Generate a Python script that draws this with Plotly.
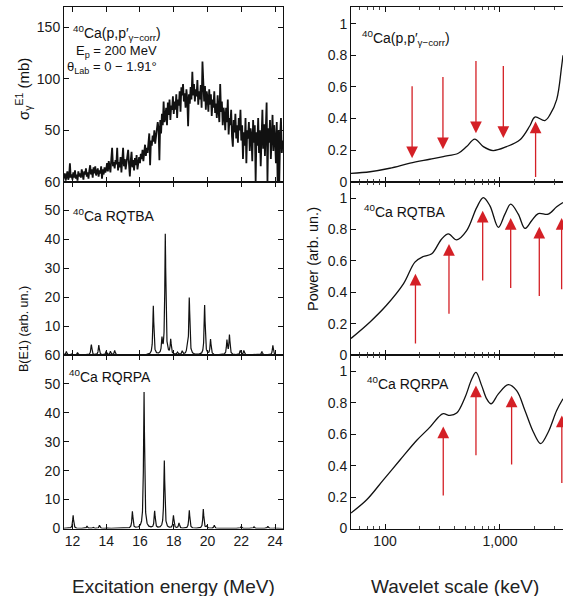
import numpy as np
import plotly.graph_objects as go

W, H = 563, 596

# ---------------- DATA ----------------
# Experimental 40Ca(p,p') E1 photoabsorption cross section (mb), 50 keV bins
exp_E_start = 11.50
exp_E_step = 0.05
exp_sigma = [
    3, 8, 1, 6, 10, 2, 5, 18, 4, 7,
    2, 9, 4, 11, 3, 7, 1, 10, 5, 8,
    4, 12, 6, 2, 10, 7, 13, 5, 9, 3,
    11, 16, 7, 12, 4, 14, 8, 15, 6, 10,
    13, 5, 11, 8, 15, 3, 12, 7, 14, 9,
    12, 18, 10, 20, 14, 9, 22, 33, 15, 19,
    13, 21, 17, 33, 11, 19, 14, 24, 9, 20,
    33, 15, 22, 12, 19, 25, 31, 17, 5, 20,
    29, 14, 21, 11, 23, 16, 26, 12, 20, 24,
    18, 27, 22, 31, 20, 29, 36, 25, 33, 28,
    38, 47, 16, 40, 35, 45, 39, 50, 37, 44,
    48, 58, 52, 21, 60, 47, 66, 55, 78, 58,
    62, 72, 55, 77, 65, 80, 60, 74, 70, 83,
    66, 78, 70, 85, 62, 80, 74, 88, 68, 92,
    84, 95, 78, 86, 72, 90, 80, 54, 85, 76,
    92, 80, 107, 84, 95, 78, 90, 83, 99, 75,
    88, 80, 94, 72, 117, 86, 78, 93, 70, 88,
    82, 68, 90, 75, 85, 64, 80, 72, 88, 67,
    76, 62, 84, 70, 58, 95, 68, 78, 55, 72,
    65, 50, 72, 58, 80, 46, 62, 55, 70, 44,
    34, 60, 48, 66, 42, 55, 38, 62, 50, 70,
    40, 55, 22, 48, 35, 62, 18, 50, 42, 58,
    30, 52, 45, 20, 60, 38, 55, 0, 48, 35,
    62, 28, 50, 15, 45, 70, 32, 56, 25, 48,
    77, 0, 52, 38, 60, 22, 46, 65, 30, 55,
    42, 18, 58, 0, 50, 0, 45, 62, 28, 40,
]

# RQTBA discrete E1 strength (energy MeV, B(E1) arb. un.)
rqtba_E = [11.64, 11.94, 12.30, 13.12, 13.56, 14.00, 14.25, 14.50, 15.98,
           16.79, 17.30, 17.50, 17.82, 18.22, 18.50, 18.80, 18.92, 19.83,
           20.18, 21.15, 21.30, 21.94, 22.15, 23.22, 23.87]
rqtba_B = [1.2, 0.5, 0.8, 3.6, 3.4, 1.3, 1.2, 1.5, 0.3,
           16.9, 5.0, 41.8, 5.0, 0.8, 1.2, 2.5, 19.7, 17.2,
           5.3, 5.0, 6.8, 1.5, 1.5, 1.2, 3.3]

# RQRPA discrete E1 strength
rqrpa_E = [12.04, 12.86, 13.22, 13.60, 14.00, 15.55, 16.24, 16.87, 17.44,
           17.98, 18.31, 18.92, 19.75, 19.95, 20.40, 22.00, 22.75, 23.57, 23.97]
rqrpa_B = [4.6, 0.8, 0.5, 1.1, 0.3, 5.8, 47.3, 5.9, 23.5,
           4.4, 1.8, 6.3, 6.7, 0.8, 1.1, 0.7, 0.6, 0.8, 0.3]
peak_hwhm = 0.035  # MeV, Lorentzian folding width

# Wavelet power spectra (scale in keV)
exp_scale = [50.6, 74.1, 110, 165, 245, 321, 434, 513, 603, 716, 871, 1143,
             1493, 1820, 2014, 2455, 2723, 3112, 3436, 3532]
exp_power = [0.053, 0.063, 0.085, 0.117, 0.142, 0.159, 0.18, 0.222, 0.269,
             0.222, 0.197, 0.222, 0.265, 0.354, 0.409, 0.387, 0.424, 0.519,
             0.73, 0.80]

rqtba_scale = [50.6, 74.1, 103, 145, 182, 215, 255, 311, 356, 420, 513, 627,
               716, 818, 968, 1104, 1239, 1442, 1648, 1884, 2153, 2630, 3112, 3532]
rqtba_power = [0.106, 0.211, 0.317, 0.455, 0.592, 0.628, 0.645, 0.74, 0.772,
               0.734, 0.793, 0.94, 1.004, 0.951, 0.814, 0.898, 0.962, 0.898,
               0.807, 0.856, 0.902, 0.898, 0.945, 0.972]

rqrpa_scale = [50.6, 69.3, 96.8, 135, 189, 246, 291, 321, 367, 420, 497, 568,
               618, 693, 766, 836, 968, 1180, 1396, 1648, 1950, 2259, 2630, 3112, 3532]
rqrpa_power = [0.099, 0.183, 0.31, 0.436, 0.562, 0.646, 0.709, 0.731, 0.72,
               0.735, 0.836, 0.952, 0.994, 0.91, 0.826, 0.794, 0.857, 0.916,
               0.878, 0.752, 0.615, 0.541, 0.615, 0.752, 0.826]

# Characteristic-scale arrows: scale (keV), tail value, head value
arr_exp_scale = [172, 319, 618, 1069, 2040]
arr_exp_tail = [0.614, 0.671, 0.773, 0.741, 0.02]
arr_exp_head = [0.149, 0.206, 0.307, 0.276, 0.381]

arr_rqtba_scale = [184, 360, 707, 1239, 2197, 3436]
arr_rqtba_tail = [0.063, 0.254, 0.465, 0.417, 0.366, 0.41]
arr_rqtba_head = [0.518, 0.708, 0.919, 0.873, 0.818, 0.873]

arr_rqrpa_scale = [321, 618, 1262, 3450]
arr_rqrpa_tail = [0.2, 0.457, 0.398, 0.28]
arr_rqrpa_head = [0.65, 0.91, 0.846, 0.72]

left_xticks = [12, 14, 16, 18, 20, 22, 24]
top_left_yticks = [0, 50, 100, 150]
top_left_yticklabels = ["", "50", "100", "150"]      # "0" hidden under the "60" below
peak_yticks = [0, 10, 20, 30, 40, 50, 60]
mid_peak_yticklabels = ["", "10", "20", "30", "40", "50", "60"]
low_peak_yticklabels = ["0", "10", "20", "30", "40", "50", "60"]
power_yticks = [0, 0.2, 0.4, 0.6, 0.8, 1]
power_yticklabels = ["0", "0.2", "0.4", "0.6", "0.8", "1"]
scale_ticks = [100, 1000]
scale_ticklabels = ["100", "1,000"]
scale_minor = [60, 70, 80, 90, 200, 300, 400, 500, 600, 700, 800, 900, 2000, 3000]

# ---------------- FIGURE ----------------
FONT = "Liberation Sans, Arial, Helvetica, sans-serif"
INK = "#111111"
RED = "#d42026"


def fx(px):
    return px / W


def fy(py):
    return 1 - py / H


exp_E = np.round(exp_E_start + exp_E_step * np.arange(len(exp_sigma)), 3)
e_grid = np.arange(11.45, 24.5, 0.004)


def fold(E, B):
    out = np.zeros_like(e_grid)
    for e0, b in zip(E, B):
        out += b * peak_hwhm ** 2 / ((e_grid - e0) ** 2 + peak_hwhm ** 2)
    return out


fig = go.Figure()
fig.add_trace(go.Scatter(x=exp_E, y=exp_sigma, mode="lines",
                         line=dict(color=INK, width=1.8), xaxis="x", yaxis="y"))
fig.add_trace(go.Scatter(x=e_grid, y=fold(rqtba_E, rqtba_B), mode="lines",
                         line=dict(color=INK, width=1.2), xaxis="x2", yaxis="y2"))
fig.add_trace(go.Scatter(x=e_grid, y=fold(rqrpa_E, rqrpa_B), mode="lines",
                         line=dict(color=INK, width=1.2), xaxis="x3", yaxis="y3"))
fig.add_trace(go.Scatter(x=exp_scale, y=exp_power, mode="lines", line_shape="spline",
                         line=dict(color=INK, width=1.3), xaxis="x4", yaxis="y4"))
fig.add_trace(go.Scatter(x=rqtba_scale, y=rqtba_power, mode="lines", line_shape="spline",
                         line=dict(color=INK, width=1.3), xaxis="x5", yaxis="y5"))
fig.add_trace(go.Scatter(x=rqrpa_scale, y=rqrpa_power, mode="lines", line_shape="spline",
                         line=dict(color=INK, width=1.3), xaxis="x6", yaxis="y6"))

tickfont = dict(family=FONT, size=14, color="#1a1a1a")
common_ax = dict(showline=True, linecolor=INK, linewidth=1, ticks="inside", ticklen=5,
                 tickcolor=INK, showgrid=False, zeroline=False, tickfont=tickfont,
                 automargin=False)

left_dom = [fx(64), fx(283)]
right_dom = [fx(351), 1.0]
row_dom = [[fy(181.7), fy(7)], [fy(355), fy(181.7)], [fy(528.5), fy(355)]]
left_ylabels = [top_left_yticklabels, mid_peak_yticklabels, low_peak_yticklabels]

layout_axes = {}
for i in range(3):
    n = i + 1
    sfx = str(n) if n > 1 else ""
    layout_axes[f"xaxis{sfx}"] = dict(
        common_ax, domain=left_dom, anchor=f"y{sfx}",
        range=[11.5, 24.47], tickvals=left_xticks, mirror="ticks",
        showticklabels=(i == 2))
    layout_axes[f"yaxis{sfx}"] = dict(
        common_ax, domain=row_dom[i], anchor=f"x{sfx}",
        range=[0, 170] if i == 0 else [0, 60],
        tickvals=top_left_yticks if i == 0 else peak_yticks,
        ticktext=left_ylabels[i], mirror="ticks")
for i in range(3):
    n = i + 4
    layout_axes[f"xaxis{n}"] = dict(
        common_ax, domain=right_dom, anchor=f"y{n}", type="log",
        range=[np.log10(50.6), np.log10(3532)], tickvals=scale_ticks,
        ticktext=scale_ticklabels, mirror="ticks", showticklabels=(i == 2),
        minor=dict(tickvals=scale_minor, ticks="inside", ticklen=3, tickcolor="#444"))
    layout_axes[f"yaxis{n}"] = dict(
        common_ax, domain=row_dom[i], anchor=f"x{n}", range=[0, 1.105],
        tickvals=power_yticks, ticktext=power_yticklabels, mirror=False)

annotations = []


def label(text, px, py, size=14, xanchor="left", angle=0, color=INK):
    annotations.append(dict(text=text, x=fx(px), y=fy(py), xref="paper", yref="paper",
                            xanchor=xanchor, yanchor="middle", showarrow=False,
                            textangle=angle, font=dict(family=FONT, size=size, color=color)))


label("<sup>40</sup>Ca(p,p′<sub>γ−corr</sub>)", 71, 33, 14)
label("E<sub>p</sub> = 200 MeV", 116, 52, 13, "center")
label("θ<sub>Lab</sub> = 0 − 1.91°", 112, 67, 13, "center")
label("<sup>40</sup>Ca RQTBA", 71, 215, 14)
label("<sup>40</sup>Ca RQRPA", 67, 376, 14)
label("<sup>40</sup>Ca(p,p′<sub>γ−corr</sub>)", 360, 38, 14)
label("<sup>40</sup>Ca RQTBA", 362, 211, 14)
label("<sup>40</sup>Ca RQRPA", 365, 383, 14)
label("σ<sub>γ</sub><sup>E1</sup> (mb)", 23, 89, 15, "center", -90)
label("B(E1) (arb. un.)", 24, 329, 12.5, "center", -90)
label("Power (arb. un.)", 313, 259, 14.5, "center", -90)
label("Excitation energy (MeV)", 173.5, 586, 19, "center", 0, "#222222")
label("Wavelet scale (keV)", 455, 586, 19, "center", 0, "#222222")


def arrows(scales, tails, heads, n):
    for s, t, h in zip(scales, tails, heads):
        annotations.append(dict(
            x=np.log10(s), y=h, ax=np.log10(s), ay=t, xref=f"x{n}", yref=f"y{n}",
            axref=f"x{n}", ayref=f"y{n}", text="", showarrow=True, arrowhead=2,
            arrowsize=1.8, arrowwidth=1.3, arrowcolor=RED))


arrows(arr_exp_scale, arr_exp_tail, arr_exp_head, 4)
arrows(arr_rqtba_scale, arr_rqtba_tail, arr_rqtba_head, 5)
arrows(arr_rqrpa_scale, arr_rqrpa_tail, arr_rqrpa_head, 6)

fig.update_layout(
    template="none", width=W, height=H, showlegend=False,
    margin=dict(l=0, r=0, t=0, b=0, pad=0),
    paper_bgcolor="white", plot_bgcolor="white",
    font=dict(family=FONT, color=INK),
    annotations=annotations, **layout_axes)

fig.write_html("out.html", config={"displayModeBar": False},
               post_script="document.body.style.margin='0';")
